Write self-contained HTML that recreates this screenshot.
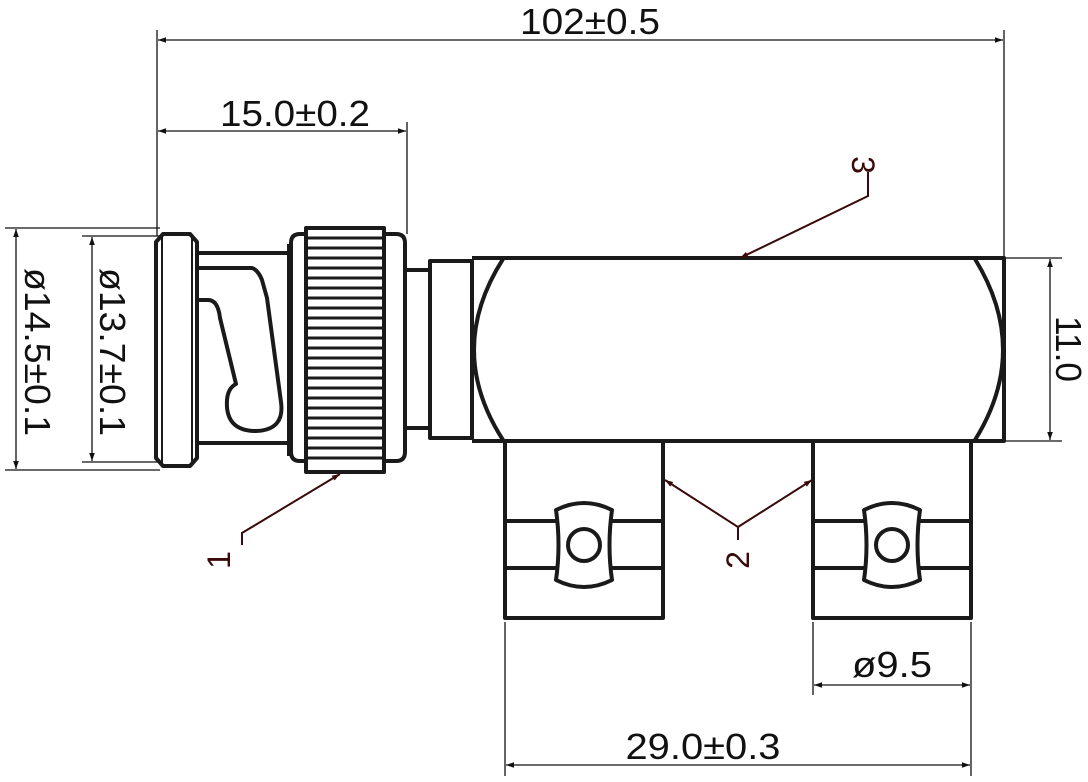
<!DOCTYPE html>
<html><head><meta charset="utf-8"><style>html,body{margin:0;padding:0;background:#fff}svg{display:block}</style></head>
<body>
<svg width="1088" height="782" viewBox="0 0 1088 782" xmlns="http://www.w3.org/2000/svg" font-family="Liberation Sans, sans-serif">
<defs>
<marker id="a" viewBox="0 0 10 10" refX="10" refY="5" markerWidth="14" markerHeight="8" markerUnits="userSpaceOnUse" orient="auto-start-reverse"><path d="M0,1.5 L10,5 L0,8.5 z" fill="#111"/></marker>
<marker id="b" viewBox="0 0 10 10" refX="10" refY="5" markerWidth="16" markerHeight="8" markerUnits="userSpaceOnUse" orient="auto"><path d="M0,1.5 L10,5 L0,8.5 z" fill="#3a0a0a"/></marker>
</defs>
<g stroke="#111" stroke-width="1.3" fill="none">
<line x1="157" y1="30" x2="157" y2="236"/>
<line x1="1004" y1="30" x2="1004" y2="258"/>
<line x1="407" y1="122" x2="407" y2="234"/>
<line x1="5" y1="228" x2="160" y2="228"/>
<line x1="5" y1="470" x2="160" y2="470"/>
<line x1="82" y1="236" x2="160" y2="236"/>
<line x1="82" y1="462" x2="160" y2="462"/>
<line x1="1004" y1="258" x2="1062" y2="258"/>
<line x1="1004" y1="441" x2="1062" y2="441"/>
<line x1="505" y1="622" x2="505" y2="776"/>
<line x1="813" y1="622" x2="813" y2="695"/>
<line x1="971" y1="622" x2="971" y2="776"/>
<line x1="158" y1="40" x2="1003" y2="40" marker-start="url(#a)" marker-end="url(#a)"/>
<line x1="158" y1="131" x2="406" y2="131" marker-start="url(#a)" marker-end="url(#a)"/>
<line x1="16" y1="229" x2="16" y2="469" marker-start="url(#a)" marker-end="url(#a)"/>
<line x1="92" y1="237" x2="92" y2="461" marker-start="url(#a)" marker-end="url(#a)"/>
<line x1="1050" y1="259" x2="1050" y2="440" marker-start="url(#a)" marker-end="url(#a)"/>
<line x1="814" y1="685" x2="970" y2="685" marker-start="url(#a)" marker-end="url(#a)"/>
<line x1="506" y1="765" x2="970" y2="765" marker-start="url(#a)" marker-end="url(#a)"/>
</g>
<g fill="#111" font-size="36">
<text x="590" y="34" text-anchor="middle" textLength="140" lengthAdjust="spacingAndGlyphs">102±0.5</text>
<text x="295" y="126" text-anchor="middle" textLength="150" lengthAdjust="spacingAndGlyphs">15.0±0.2</text>
<text transform="translate(25,352) rotate(90)" text-anchor="middle" textLength="168" lengthAdjust="spacingAndGlyphs">ø14.5±0.1</text>
<text transform="translate(100,352) rotate(90)" text-anchor="middle" textLength="168" lengthAdjust="spacingAndGlyphs">ø13.7±0.1</text>
<text transform="translate(1056,349) rotate(90)" text-anchor="middle" textLength="66" lengthAdjust="spacingAndGlyphs">11.0</text>
<text x="892" y="677" text-anchor="middle" textLength="80" lengthAdjust="spacingAndGlyphs">ø9.5</text>
<text x="703" y="759" text-anchor="middle" textLength="155" lengthAdjust="spacingAndGlyphs">29.0±0.3</text>
</g>
<g stroke="#1a1a1a" stroke-width="4" fill="none" stroke-linejoin="round">
<path d="M163,234 L190,234 L197,242 L197,458 L190,466 L163,466 L156,458 L156,242 Z"/>
<line x1="162" y1="236" x2="162" y2="464" stroke-width="2"/>
<line x1="192" y1="236" x2="192" y2="464" stroke-width="2"/>
<line x1="197" y1="253" x2="290" y2="253"/>
<line x1="197" y1="443" x2="290" y2="443"/>
<path d="M197,268 L252,268 Q258,270 262,280 L267,298 L281,402 Q285,430 256,431 Q225,431 227,400 Q228,388 236,384 L220,318 Q218,300 208,300 L197,300"/>
<line x1="289" y1="244" x2="289" y2="456"/>
<path d="M305,234 L300,234 Q291,234 291,243 L291,452 Q291,461 300,461 L305,461 M385,234 L396,234 Q405,234 405,243 L405,452 Q405,461 396,461 L385,461"/>
<rect x="306" y="228" width="78" height="244"/>
<path d="M405,270 L430,270 M405,428 L430,428"/>
<rect x="430" y="261" width="42" height="177"/>
<path d="M472,258 L1004,258 L1004,441 L472,441"/>
<path d="M503,259 Q445,350 503,440 M975,259 Q1031,350 975,440"/>
<g id="c">
<path d="M505,441 L505,618 L663,618 L663,441"/>
<line x1="505" y1="521" x2="556" y2="521"/>
<line x1="612" y1="521" x2="663" y2="521"/>
<line x1="505" y1="568" x2="556" y2="568"/>
<line x1="612" y1="568" x2="663" y2="568"/>
<path d="M556,510 Q584,496 612,510 Q607,545 612,580 Q584,594 556,580 Q561,545 556,510 Z"/>
<circle cx="584" cy="545" r="16"/>
</g>
<use href="#c" transform="translate(308,0)"/>
</g>
<g stroke="#1a1a1a" stroke-width="3">
<line x1="306" y1="238" x2="384" y2="238"/><line x1="306" y1="248" x2="384" y2="248"/><line x1="306" y1="258" x2="384" y2="258"/><line x1="306" y1="268" x2="384" y2="268"/><line x1="306" y1="278" x2="384" y2="278"/><line x1="306" y1="288" x2="384" y2="288"/><line x1="306" y1="298" x2="384" y2="298"/><line x1="306" y1="308" x2="384" y2="308"/><line x1="306" y1="318" x2="384" y2="318"/><line x1="306" y1="328" x2="384" y2="328"/><line x1="306" y1="338" x2="384" y2="338"/><line x1="306" y1="348" x2="384" y2="348"/><line x1="306" y1="358" x2="384" y2="358"/><line x1="306" y1="368" x2="384" y2="368"/><line x1="306" y1="378" x2="384" y2="378"/><line x1="306" y1="388" x2="384" y2="388"/><line x1="306" y1="398" x2="384" y2="398"/><line x1="306" y1="408" x2="384" y2="408"/><line x1="306" y1="418" x2="384" y2="418"/><line x1="306" y1="428" x2="384" y2="428"/><line x1="306" y1="438" x2="384" y2="438"/><line x1="306" y1="448" x2="384" y2="448"/><line x1="306" y1="458" x2="384" y2="458"/>
</g>
<g stroke="#3a0a0a" stroke-width="2" fill="none">
<path d="M868,172 L868,196 L740,258" marker-end="url(#b)"/>
<path d="M242,545 L242,533 L340,474" marker-end="url(#b)"/>
<path d="M738,540 L738,527 L665,480" marker-end="url(#b)"/>
<path d="M738,527 L812,480" marker-end="url(#b)"/>
</g>
<g fill="#3a0a0a" font-size="32">
<text transform="translate(852,165) rotate(90)" text-anchor="middle">3</text>
<text transform="translate(230,560) rotate(-90)" text-anchor="middle">1</text>
<text transform="translate(749,560) rotate(-90)" text-anchor="middle">2</text>
</g>
</svg>
</body></html>
